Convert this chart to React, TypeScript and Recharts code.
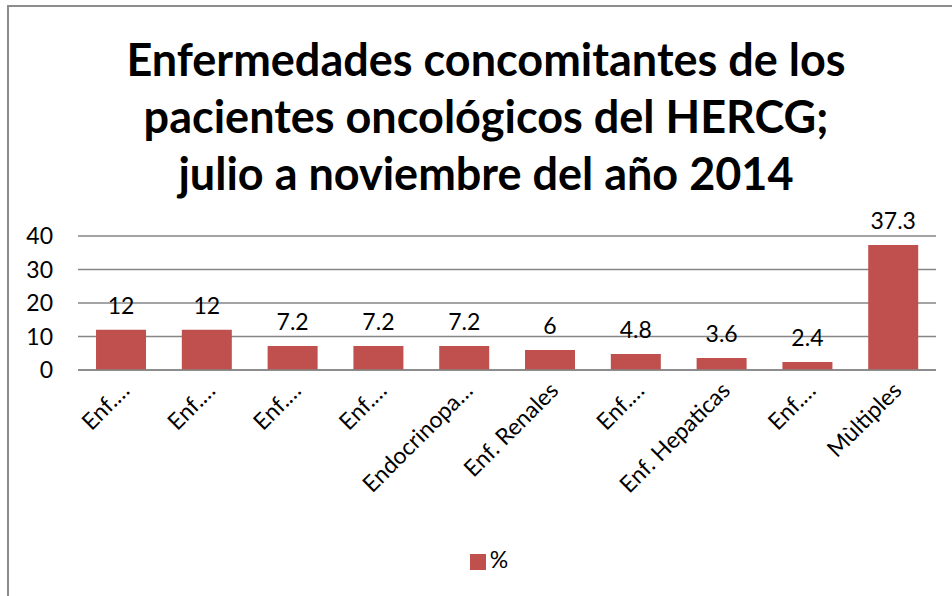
import React from 'react';
import { BarChart, Bar, XAxis, YAxis, CartesianGrid, Legend, LabelList } from 'recharts';

const categories = [
  'Enf.…', 'Enf.…', 'Enf.…', 'Enf.…', 'Endocrinopa…',
  'Enf. Renales', 'Enf.…', 'Enf. Hepaticas', 'Enf.…', 'Mùltiples',
];
const percentages = [12, 12, 7.2, 7.2, 7.2, 6, 4.8, 3.6, 2.4, 37.3];
const yTicks = [0, 10, 20, 30, 40];
const titleLines = [
  'Enfermedades concomitantes de los',
  'pacientes oncológicos del HERCG;',
  'julio a noviembre del año 2014',
];

const data = categories.map((name, i) => ({ name, value: percentages[i] }));

const FONT = 'Lato, "Open Sans", sans-serif';
const GRID = '#868686';
const BAR = '#C0504D';

const RotatedTick = (props: any) => {
  const { x, y, payload } = props;
  return (
    <g transform={`translate(${x + 10},${y + 14})`}>
      <text
        x={0}
        y={0}
        textAnchor="end"
        transform="rotate(-45)"
        fontSize={23}
        fontFamily={FONT}
        fill="#000"
      >
        {payload.value}
      </text>
    </g>
  );
};

export default function App() {
  return (
    <div
      style={{
        position: 'fixed', left: 0, top: 0, width: 952, height: 596,
        overflow: 'hidden', background: '#fff', fontFamily: FONT,
      }}
    >
      <div
        style={{
          position: 'absolute', left: 7, top: 5, width: 1000, height: 700,
          borderTop: '2px solid #8c8c8c', borderLeft: '2px solid #8c8c8c',
        }}
      />
      <div
        style={{
          position: 'absolute', left: 10, top: 31, width: 952,
          textAlign: 'center', fontWeight: 700, fontSize: 45,
          lineHeight: '57px', color: '#000',
        }}
      >
        {titleLines.map((t, i) => (
          <div key={i}>{t}</div>
        ))}
      </div>
      <div style={{ position: 'absolute', left: 0, top: 0 }}>
        <BarChart
          width={952}
          height={596}
          data={data}
          margin={{ top: 236, right: 16, left: 0, bottom: 76 }}
          barCategoryGap="21%"
        >
          <CartesianGrid vertical={false} stroke={GRID} strokeWidth={1.5} />
          <XAxis
            dataKey="name"
            interval={0}
            height={150}
            tickLine={false}
            axisLine={{ stroke: GRID, strokeWidth: 1.5 }}
            tick={<RotatedTick />}
          />
          <YAxis
            width={78}
            domain={[0, 40]}
            ticks={yTicks}
            axisLine={false}
            tickLine={false}
            tickSize={0}
            tickMargin={25}
            tick={{ fontSize: 23, fill: '#000', fontFamily: FONT }}
          />
          <Legend
            layout="horizontal"
            verticalAlign="middle"
            align="center"
            iconType="square"
            iconSize={16}
            wrapperStyle={{ top: 545, left: 18, width: 952, fontSize: 23, fontFamily: FONT }}
            formatter={(v: string) => <span style={{ color: '#000' }}>{v}</span>}
          />
          <Bar dataKey="value" name="%" fill={BAR} isAnimationActive={false}>
            <LabelList
              dataKey="value"
              position="top"
              offset={16}
              fontSize={23}
              fill="#000"
              fontFamily={FONT}
            />
          </Bar>
        </BarChart>
      </div>
    </div>
  );
}
